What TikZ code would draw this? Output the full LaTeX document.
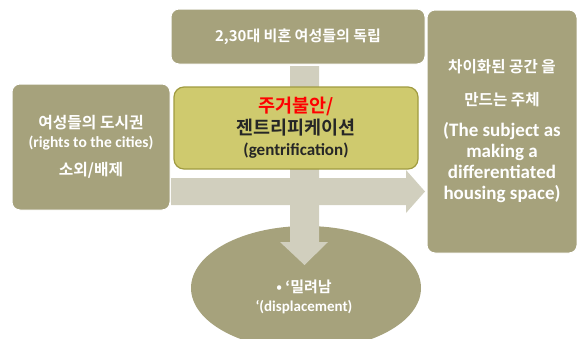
\documentclass[tikz,border=0pt]{standalone}
\usepackage{fontspec}
\setmainfont{Carlito}
\newfontfamily\kr{Noto Sans CJK KR}[BoldFont={Noto Sans CJK KR Bold}]
\usetikzlibrary{shapes.geometric}
\definecolor{boxol}{RGB}{166,162,124}
\definecolor{arrg}{RGB}{209,207,190}
\definecolor{yel}{RGB}{207,202,110}
\definecolor{yelb}{RGB}{160,155,65}
\definecolor{txtd}{RGB}{38,38,38}
\begin{document}
\begin{tikzpicture}[x=1pt,y=-1pt,
  box/.style={fill=boxol, draw=white, line width=1pt, rounded corners=8pt, inner sep=0pt, text=white, font=\bfseries, align=center},
  blockarrow/.style={fill=arrg, draw=none}]
\useasboundingbox (0,0) rectangle (577,338);
% ellipse
\node[ellipse, fill=boxol, minimum width=230pt, minimum height=124pt, inner sep=0pt] (ell) at (306,288) {};
% block arrows
\coordinate (vtop) at (304.5,66);
\coordinate (vtip) at (304.5,265);
\fill[blockarrow] (290,66) -- (319,66) -- (319,242) -- (328,242) -- (vtip) -- (280,242) -- (290,242) -- cycle;
\coordinate (hstart) at (171,191.5);
\coordinate (htip) at (425,191.5);
\fill[blockarrow] (171,178) -- (406,178) -- (406,170) -- (htip) -- (406,213) -- (406,205) -- (171,205) -- cycle;
% boxes
\node[box, minimum width=254pt, minimum height=55pt] (top) at (298,36.5)
  {\kr\bfseries\fontsize{15}{17}\selectfont 2,30대 비혼 여성들의 독립};
\node[box, minimum width=158pt, minimum height=126pt, font=\bfseries\fontsize{15.5}{18}\selectfont] (left) at (91,147)
  {{\kr\bfseries\fontsize{15.8}{18}\selectfont 여성들의 도시권}\\[1pt]
   (rights to the cities)\\[10pt]
   {\kr\bfseries\fontsize{15.8}{18}\selectfont 소외/배제}};
\node[box, fill=yel, draw=yelb, line width=1.2pt, rounded corners=10pt, text=txtd, minimum width=244pt, minimum height=82pt, font=\bfseries\fontsize{17}{21.5}\selectfont] (mid) at (296,128)
  {{\kr\bfseries\fontsize{18.5}{21.5}\selectfont\color{red} 주거불안/}\\
   {\kr\bfseries\fontsize{18.5}{21.5}\selectfont 젠트리피케이션}\\
   (gentrification)};
\node[box, minimum width=150pt, minimum height=243pt, font=\bfseries\fontsize{19}{21}\selectfont] (right) at (502,131.5)
  {{\kr\bfseries\fontsize{15.6}{21}\selectfont 차이화된 공간 을}\\[12pt]
   {\kr\bfseries\fontsize{15.6}{21}\selectfont 만드는 주체}\\[10pt]
   (The subject as\\
   making a\\
   differentiated\\
   housing space)};
\node[text=white, align=center, inner sep=0pt, font=\bfseries\fontsize{15}{19}\selectfont] (ellt) at (304,297)
  {{\kr\bfseries • ‘밀려남}\\
   ‘(displacement)};
\end{tikzpicture}
\end{document}
